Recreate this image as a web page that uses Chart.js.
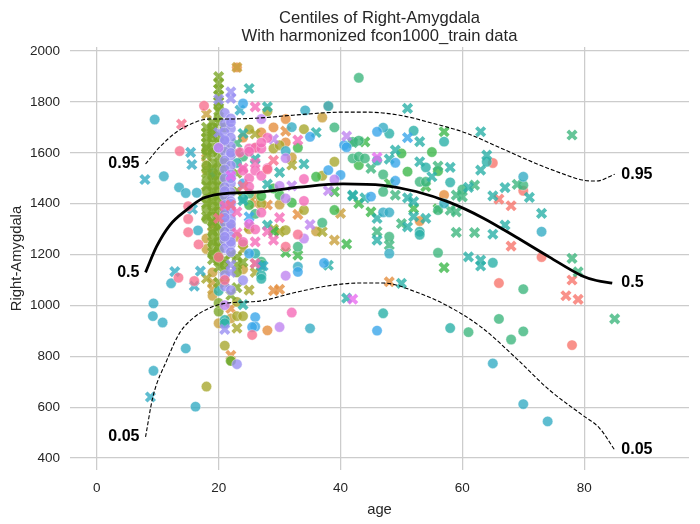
<!DOCTYPE html>
<html>
<head>
<meta charset="utf-8">
<script src="https://cdn.jsdelivr.net/npm/chart.js@4"></script>
<style>
  html, body { margin: 0; background: #fff; }
  canvas { display: block; }
</style>
</head>
<body>
<canvas id="chart" width="700" height="524"></canvas>
<script>
// centile curves, [age, volume]
const centile95 = [[8,1556],[10.3,1622],[13.1,1682],[15.8,1717],[18.5,1733],[21.3,1733],[26.7,1737],[32.2,1748],[40.4,1760],[44.3,1760],[49.7,1748],[55,1717],[60.6,1678],[66,1622],[71.5,1564],[77,1513],[79.7,1493],[82,1489],[85,1516]];
const centile50 = [[8,1130],[9.8,1231],[12,1316],[14.7,1375],[17.4,1421],[20.2,1438],[26.7,1446],[33.3,1465],[40.4,1478],[47,1472],[52.4,1448],[57.9,1405],[63.3,1345],[68.8,1269],[74.3,1190],[79.7,1116],[82,1098],[84.6,1088]];
const centile05 = [[8,483],[9.2,640],[11.5,785],[13.6,892],[15.8,950],[18.5,990],[21.3,1009],[26.7,1017],[32.2,1049],[37.7,1076],[43,1088],[47,1088],[52.4,1053],[57.9,994],[63.3,911],[68.8,793],[74.3,667],[79.7,569],[82.5,518],[85,432]];
const centileNames = ["0.95", "0.5", "0.05"];

const xTicks = [0, 20, 40, 60, 80];
const yTicks = [400, 600, 800, 1000, 1200, 1400, 1600, 1800, 2000];

// scatter, one pair of lists per site colour
const salmonO = [[65,1560],[70,1451],[73,1190],[66,1088],[78,844]];
const salmonX = [[66,1418],[68,1392],[68,1233],[78,1100],[77,1038],[79,1024]];
const orangeO = [[23,1936],[31,1733],[29,1700],[27,1680],[31,1641],[28,902],[53,1332],[57,1434],[26,1620],[24,1660]];
const orangeX = [[31,1685],[33,1358],[22,804],[22,988],[29,1058],[30,1063],[48,1093],[19,1309],[26,1400],[28,1395]];
const goldO = [[37,1739],[38,1784],[32,1582],[30,1397],[36,1291],[18,1263],[18,1222],[19,1038],[20,930],[22,949],[24,1142],[23,1270],[25,1300],[20,1180],[19,1130],[22,1310]];
const goldX = [[23,1936],[39,1257],[40,1362],[19,1091],[19,1063],[18,1752],[18,1600],[18,1560],[26,1430]];
const oliveO = [[28,1763],[25,1692],[34,1693],[29,1617],[30,1630],[39,1565],[37,1510],[34,1375],[18,1530],[18,681],[21,842],[23,958],[24,958],[23,1014],[31,1296],[27,1400],[24,1240]];
const oliveX = [[32,1552],[26,1674],[37,1290],[23,911],[25,1060],[26,1165],[25,1310],[29,1300],[24,1220],[18,1106],[26,1130],[30,1290]];
const greenO = [[33,1620],[32,1404],[36,1506],[39,1375],[30,1434],[25,1395],[51,1526],[55,1603],[43,1552],[56,1528],[50,1598],[22,782],[27,1430],[29,1460]];
const greenX = [[39,1447],[41,1241],[31,1208],[33,1198],[43,1401],[45,1368],[57,1683],[57,1149],[48,1480],[52,1381],[54,1467],[56,1380],[44,1643],[29,1290]];
const seaO = [[39,1700],[43,1895],[33,1231],[37,1325],[42,1643],[43,1648],[42,1578],[43,1585],[44,1578],[47,1515],[47,1447],[48,1270],[53,1486],[54,1486],[60,1456],[56,1375],[56,1207],[70,1473],[70,1064],[66,947],[70,898],[61,895],[68,866],[27,1172],[27,1160],[24,1585],[25,1440],[26,1360]];
const seaX = [[45,1539],[23,1637],[19,1330],[42,1640],[48,1237],[46,1290],[49,1434],[50,1322],[56,1548],[59,1434],[60,1427],[58,1375],[59,1368],[59,1287],[62,1286],[62,1473],[69,1476],[78,1670],[78,1185],[79,1132],[85,947]];
const tealO = [[19,1525],[19,1505],[21,943],[21,930],[27,1119],[27,1105],[20,1057],[48,1676],[52,1687],[54,1543],[53,1290],[53,1278],[57,1644],[58,1484],[47,969],[58,911],[64,1565],[65,1168],[26,1204],[46,1570],[23,1560],[24,1420]];
const tealX = [[24,1676],[28,1781],[25,1853],[30,1523],[28,1477],[24,1412],[28,1316],[26,1576],[27,1155],[36,1680],[34,1556],[38,1158],[24,1003],[42,1434],[42,1431],[44,1423],[46,1342],[46,1257],[48,1575],[49,1611],[51,1775],[51,1309],[51,1423],[52,1349],[52,1408],[53,1644],[53,1565],[54,1342],[55,1506],[58,1543],[61,1464],[61,1191],[63,1683],[63,1532],[63,1178],[63,1155],[64,1591],[65,1431],[65,1280],[67,1463],[67,1316],[71,1425],[73,1362],[50,1087],[41,1029]];
const cyanO = [[9.5,1731],[11,1508],[13.5,1464],[14.6,1442],[16.4,1443],[16.6,1295],[34.2,1767],[38,1784],[32,1701],[31,1607],[9.3,1008],[9.2,958],[10.8,933],[14.6,831],[9.3,743],[16.2,602],[12.2,1087],[35,910],[47,1699],[47,1366],[48,1366],[48,1204],[70,1506],[73,1290],[65,772],[70,612],[74,544],[57,1401],[33,1152]];
const cyanX = [[15.4,1602],[15.6,1554],[7.9,1495],[15.7,1379],[12.8,1133],[16,1076],[17,1135],[8.8,640],[23.5,1768],[27.3,1155]];
const skyO = [[35,1663],[38,1532],[40,1513],[40.6,1630],[41,1622],[37.3,1167],[33,1132],[26,954],[26,917],[25.5,915],[46,1683],[45,1428],[49,1561],[49,1490],[46,901],[24,1480],[24,1794],[25,1204]];
const skyX = [[25,1348],[51,1660]];
const periO = [[23,769],[24,1099],[21,1757],[22,1735],[21,1715],[22,1695],[21,1680],[22,1660],[21,1645],[22,1625],[20,1620],[21,1605],[22,1590],[21,1570],[22,1550],[21,1535],[22,1515],[21,1500],[22,1480],[21,1465],[22,1445],[21,1430],[22,1410],[21,1395],[22,1375],[21,1360],[22,1340],[21,1325],[22,1305],[21,1290],[22,1270],[21,1255],[22,1240],[21,1225],[22,1210],[21,1120],[21,1075],[22,1060],[22,1720],[22,1600],[22,1500],[22,1400],[22,1320],[22,1250],[21,1650],[21,1450],[21,1345],[21,1270]];
const periX = [[22,1840],[22,1814],[20,1810],[20,1680],[22,1160],[22,1130],[21,906]];
const violetO = [[27,1733],[31,1579],[31,1421],[34,1263],[39,1495],[31,1117],[30,915],[21,1001],[30,1470],[20,1620]];
const violetX = [[29,1654],[32,1470],[38,1451],[35,1318],[41,1666]];
const magentaO = [[25,1320]];
const magentaX = [[46,1582],[42,1025],[22,1510]];
const pinkO = [[28,1659],[23.5,1602],[25,1617],[26,1620],[27,1617],[25,1605],[24,1530],[25,1500],[26,1530],[27,1510],[28,1540],[34,1497],[34,1411],[25,1467],[27,1365],[26,1299],[24,1250],[32,972],[27,1640]];
const pinkX = [[26,1781],[33,1650],[23,1285],[23,1368],[26,1250],[29,1257],[28,1290],[30,1345],[21,1392],[24,1540],[26,1560],[26,1165]];
const roseO = [[17.6,1785],[13.6,1607],[15,1390],[15,1340],[15,1288],[16.7,1240],[13.4,1109],[16,1096],[21,1100],[25.5,884],[33,1279],[31,1231],[28,1535],[20,1190]];
const roseX = [[13.9,1713],[20,1342],[22,1395],[24,1470],[29,1570]];

// draw order is the order of this list, first one ends up at the back
const sites = [
  ["#f8766d", salmonO, salmonX],
  ["#e58e3f", orangeO, orangeX],
  ["#c9a03c", goldO, goldX],
  ["#a8a82e", oliveO, oliveX],
  ["#3db84b", greenO, greenX],
  ["#3eb67e", seaO, seaX],
  ["#2bb0a8", tealO, tealX],
  ["#36adc4", cyanO, cyanX],
  ["#3ba6ea", skyO, skyX],
  ["#bf85f0", violetO, violetX],
  ["#e86cf0", magentaO, magentaX],
  ["#f56cb8", pinkO, pinkX],
  ["#f7708f", roseO, roseX],
];
// dense column around age 20, sits between the other sites
const oliveGreenO = [[20,1780],[20,1740],[19,1700],[20,1660],[19,1630],[18,1610],[20,1590],[19,1560],[20,1530],[19,1510],[20,1490],[19,1470],[20,1450],[19,1430],[20,1410],[19,1390],[20,1370],[19,1350],[20,1330],[18,1380],[18,1420],[20,1300],[19,1240],[20,1220],[19,1200],[20,1175],[21,1160],[20,976],[20,1010],[23,1130],[22,782],[18,1490],[18,1450],[21,1500],[21,1440],[21,1380],[21,1320],[19,1600],[19,1660],[18,1550],[18,1340],[19,1320],[19,1280],[20,1250],[21,1700],[21,1620],[21,1560]];
const oliveGreenX = [[20,1900],[20,1873],[20,1850],[20,1825],[20,1800],[20,1765],[20,1720],[19,1720],[18,1700],[19,1670],[18,1660],[20,1640],[18,1640],[19,1610],[18,1590],[20,1560],[19,1540],[20,1510],[19,1490],[20,1470],[19,1450],[20,1430],[19,1410],[20,1390],[19,1370],[20,1350],[19,1330],[20,1310],[19,1290],[20,1270],[19,1250],[20,1230],[19,1210],[20,1200],[21,1180],[20,1150],[19,1180],[21,1140],[23,1190],[23,1160],[21,1090],[23,1070],[22,1040],[20,1090],[18,1520],[18,1470],[18,1400],[18,1350],[21,1540],[21,1460],[21,1410],[21,1350],[21,1260],[23,1600],[23,1520],[23,1450],[22,1200],[24,1170],[18,1680],[19,1690],[18,1620]];

const sliceAt = 7; // sites before this one go under the dense column

function scatterSet(points, colour, isCross) {
  return {
    type: "scatter",
    data: points,
    showLine: false,
    pointStyle: isCross ? "crossRot" : "circle",
    pointRadius: isCross ? 6 : 5.2,
    pointBorderWidth: isCross ? 3.8 : 0.5,
    pointBackgroundColor: colour + "cc",
    pointBorderColor: isCross ? colour + "cc" : "#ffffffbb",
  };
}

function curveSet(points, width, dash) {
  return {
    type: "line",
    data: points,
    borderColor: "#000",
    borderWidth: width,
    borderDash: dash,
    cubicInterpolationMode: "monotone",
    pointRadius: 0,
    fill: false,
  };
}

const layered = [];
sites.forEach((s, i) => {
  if (i === sliceAt) {
    layered.push(scatterSet(oliveGreenO, "#7da82a", false));
    layered.push(scatterSet(oliveGreenX, "#7da82a", true));
    layered.push(scatterSet(periO, "#9a90f2", false));
    layered.push(scatterSet(periX, "#9a90f2", true));
  }
  layered.push(scatterSet(s[1], s[0], false));
  layered.push(scatterSet(s[2], s[0], true));
});

// first dataset is painted last in Chart.js
const datasets = [
  curveSet(centile50, 2.8, []),
  curveSet(centile95, 1.1, [4, 2]),
  curveSet(centile05, 1.1, [4, 2]),
].concat(layered.reverse());

// bold 0.95 / 0.5 / 0.05 next to both ends of the curves
const endLabels = {
  id: "endLabels",
  afterDatasetsDraw(chart) {
    const { ctx, scales } = chart;
    const curves = [centile95, centile50, centile05];
    ctx.save();
    ctx.fillStyle = "#000";
    ctx.font = "bold 16px 'Liberation Sans'";
    ctx.textBaseline = "middle";
    curves.forEach((c, i) => {
      const first = c[0], last = c[c.length - 1];
      ctx.textAlign = "right";
      ctx.fillText(centileNames[i], scales.x.getPixelForValue(first[0] - 1), scales.y.getPixelForValue(first[1]));
      ctx.textAlign = "left";
      ctx.fillText(centileNames[i], scales.x.getPixelForValue(85 + 1.1), scales.y.getPixelForValue(last[1]));
    });
    ctx.restore();
  }
};

const textColor = "#262626";
const tickFont = { family: "'Liberation Sans'", size: 13.5 };
const labelFont = { family: "'Liberation Sans'", size: 14.8 };

new Chart(document.getElementById("chart"), {
  type: "scatter",
  data: { datasets },
  plugins: [endLabels],
  options: {
    responsive: false,
    animation: false,
    devicePixelRatio: 1,
    layout: { padding: { left: 0, right: 11, top: 0, bottom: 0 } },
    plugins: {
      legend: { display: false },
      tooltip: { enabled: false },
      title: {
        display: true,
        fullSize: false,
        text: ["Centiles of Right-Amygdala", "With harmonized fcon1000_train data"],
        color: textColor,
        font: { family: "'Liberation Sans'", size: 16.6, weight: "normal", lineHeight: 1.1 },
        padding: { top: 9, bottom: 1.5 },
      },
    },
    scales: {
      x: {
        type: "linear",
        min: -4.4,
        max: 97.2,
        afterBuildTicks: ax => { ax.ticks = xTicks.map(v => ({ value: v })); },
        afterFit: ax => { ax.height = 54; },
        grid: { color: "#cccccc", lineWidth: 1.25, drawTicks: false },
        border: { display: false },
        ticks: { color: textColor, font: tickFont, padding: 10, maxRotation: 0, callback: v => String(v) },
        title: { display: true, text: "age", color: textColor, font: labelFont, padding: { top: 6, bottom: 5 } },
      },
      y: {
        type: "linear",
        min: 353,
        max: 2016,
        afterBuildTicks: ax => { ax.ticks = yTicks.map(v => ({ value: v })); },
        afterFit: ax => { ax.width = 70; },
        grid: { color: "#cccccc", lineWidth: 1.25, drawTicks: false },
        border: { display: false },
        ticks: { color: textColor, font: tickFont, padding: 10, callback: v => String(v) },
        title: { display: true, text: "Right-Amygdala", color: textColor, font: labelFont, padding: { top: 8, bottom: 0 } },
      },
    },
  },
});
</script>
</body>
</html>
